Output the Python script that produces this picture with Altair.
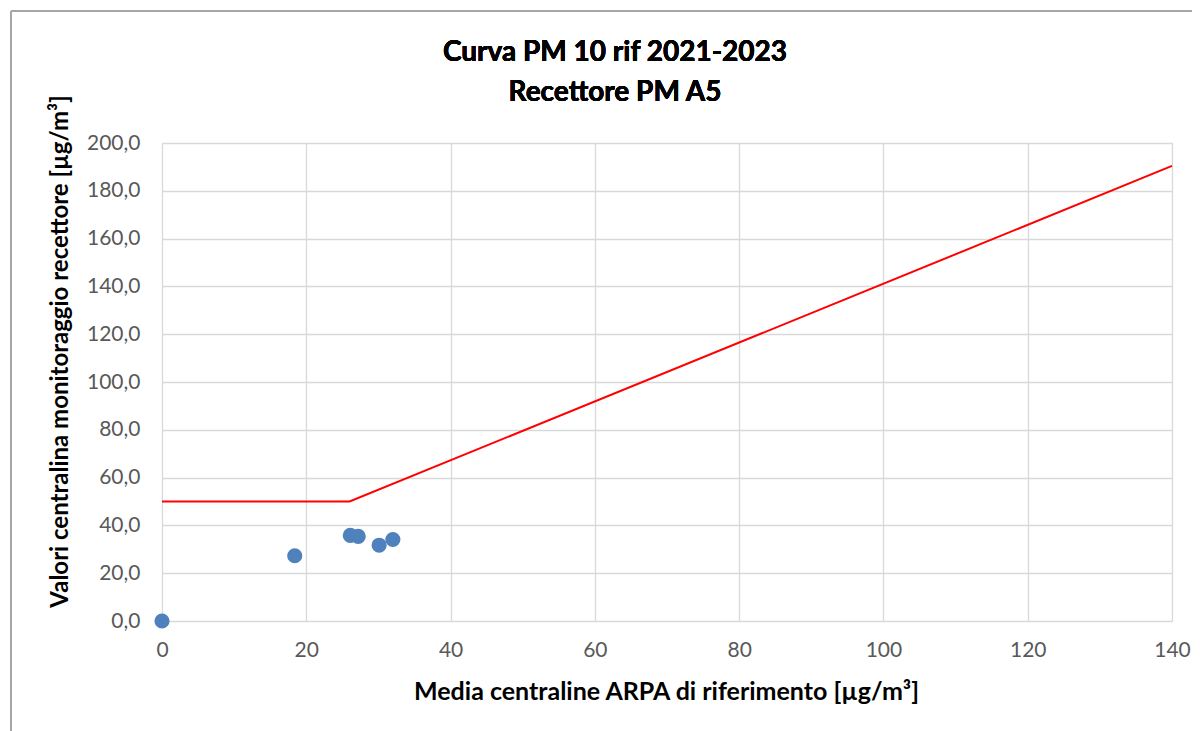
import altair as alt
import pandas as pd

# Data
pts_x = [0, 18.4, 26.1, 27.2, 30.1, 32.0]
pts_y = [0, 27.3, 35.8, 35.4, 31.7, 34.1]

curve_x = [0, 26.0, 140]
curve_y = [50, 50, 190.4]

x_ticks = [0, 20, 40, 60, 80, 100, 120, 140]
y_ticks = [0, 20, 40, 60, 80, 100, 120, 140, 160, 180, 200]

title_lines = ["Curva PM 10 rif 2021-2023", "Recettore PM A5"]

pts = pd.DataFrame({"x": pts_x, "y": pts_y})
curve = pd.DataFrame({"x": curve_x, "y": curve_y})

FONT = "Lato"
W, H = 1010, 478

xscale = alt.Scale(domain=[0, 140], nice=False, zero=False)
yscale = alt.Scale(domain=[0, 200], nice=False, zero=False)

xaxis = alt.Axis(
    values=x_ticks, grid=True, gridColor="#d9d9d9", gridWidth=1.3,
    domain=False, ticks=False, labelFontSize=21, labelColor="#595959",
    labelFont=FONT, labelPadding=18, labelFlush=False,
    title="Media centraline ARPA di riferimento [µg/m³]",
    titleFont=FONT, titleFontSize=25, titleFontWeight="bold", titleColor="#000000",
    titleX=504, titleY=70, titleAlign="center", titleBaseline="middle",
)
yaxis = alt.Axis(
    values=y_ticks, grid=True, gridColor="#d9d9d9", gridWidth=1.3,
    domain=False, ticks=False, labelFontSize=21, labelColor="#595959",
    labelFont=FONT, labelPadding=22, labelFlush=False,
    labelExpr="replace(format(datum.value, '.1f'), '.', ',')",
    title="Valori centralina monitoraggio recettore [µg/m³]",
    titleFont=FONT, titleFontSize=24, titleFontWeight="bold", titleColor="#000000",
    titleX=-102, titleY=208, titleAlign="center", titleBaseline="middle", titleAngle=-90,
)

line = alt.Chart(curve).mark_line(color="#ff0000", strokeWidth=2, interpolate="linear").encode(
    x=alt.X("x:Q", scale=xscale, axis=xaxis),
    y=alt.Y("y:Q", scale=yscale, axis=yaxis),
)

points = alt.Chart(pts).mark_circle(size=230, color="#4f81bd", opacity=1).encode(
    x=alt.X("x:Q", scale=xscale),
    y=alt.Y("y:Q", scale=yscale),
)

frame_top = alt.Chart(pts).mark_rule(color="#a6a6a6", strokeWidth=2, clip=False).encode(
    x=alt.value(-151), x2=alt.value(1100), y=alt.value(-132)
)
frame_left = alt.Chart(pts).mark_rule(color="#a6a6a6", strokeWidth=2, clip=False).encode(
    x=alt.value(-151), y=alt.value(-132), y2=alt.value(620)
)

title1 = alt.Chart(pts).mark_text(
    text=title_lines[0], font=FONT, fontSize=28, fontWeight="bold", color="#000000",
    align="center", baseline="middle", clip=False
).encode(x=alt.value(453), y=alt.value(-90))
title2 = alt.Chart(pts).mark_text(
    text=title_lines[1], font=FONT, fontSize=28, fontWeight="bold", color="#000000",
    align="center", baseline="middle", clip=False
).encode(x=alt.value(453), y=alt.value(-50))

chart = alt.layer(frame_top, frame_left, title1, title2, line, points).properties(
    width=W, height=H,
    padding={"left": 154, "top": 135, "right": 20, "bottom": 130},
    autosize=alt.AutoSizeParams(type="none"),
).configure_view(stroke=None).configure(background="white")

chart.save("out.html", embed_options={"renderer": "svg", "actions": False})
